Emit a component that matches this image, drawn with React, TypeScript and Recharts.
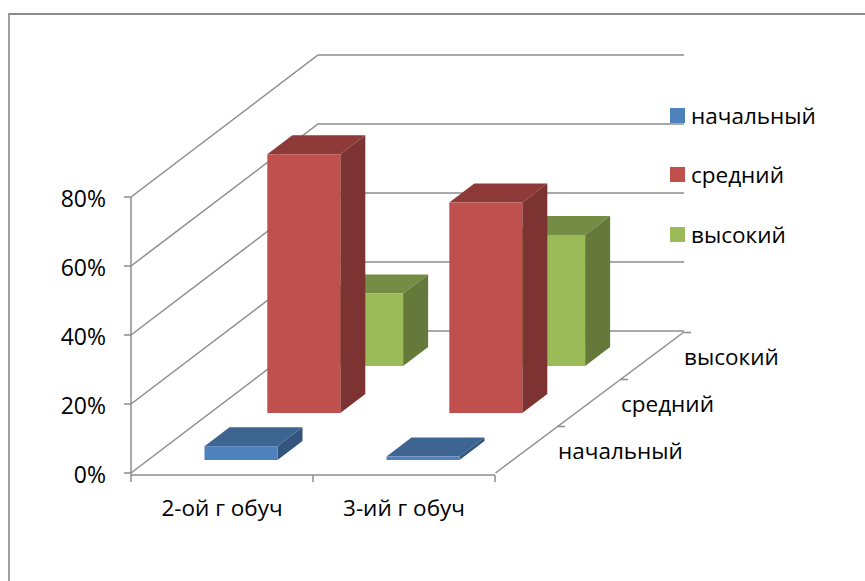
import React from 'react';
import { ComposedChart, Bar, XAxis, YAxis, CartesianGrid, Legend } from 'recharts';

const categories = ['2-ой г обуч', '3-ий г обуч'];
const seriesNames = ['начальный', 'средний', 'высокий'];
const initial = [4, 1];
const middle = [75, 61];
const high = [21, 38];
const yTicks = [0, 20, 40, 60, 80];
const data = categories.map((c, i) => ({ c, initial: initial[i], middle: middle[i], high: high[i] }));

const FONT = "'Open Sans', 'Noto Sans', sans-serif";
const FS = 22.5;
const INK = '#000';
const WALL = '#8c8c8c';
const FRONT = ['#4F81BD', '#C0504D', '#9BBB59'];
const TOP = ['#3E6491', '#8E3A38', '#748C43'];
const SIDE = ['#33547D', '#7C3331', '#64793A'];
const FLOOR_DX = 187;
const FLOOR_DY = -142;
const WALL_W = 366;
const STEP_DX = 62.8;
const STEP_DY = -47;
const BOX_DX = 25;
const BOX_DY = -19;

const barShape = (idx: number) => (p: any) => {
  const x = p.x + 18.5 + idx * STEP_DX;
  const w = p.width;
  const h = p.height;
  const y = p.y - 13 + idx * STEP_DY;
  return (
    <g>
      <path d={`M${x} ${y}l${BOX_DX} ${BOX_DY}h${w}l${-BOX_DX} ${-BOX_DY}z`} fill={TOP[idx]} />
      <path d={`M${x + w} ${y}l${BOX_DX} ${BOX_DY}v${h}l${-BOX_DX} ${-BOX_DY}z`} fill={SIDE[idx]} />
      <rect x={x} y={y} width={w} height={h} fill={FRONT[idx]} />
    </g>
  );
};

const wallLine = (p: any) => (
  <path
    key={p.key}
    d={`M${p.x1} ${p.y1}l${FLOOR_DX} ${FLOOR_DY}h${WALL_W}`}
    fill="none"
    stroke={WALL}
    strokeWidth={1.5}
  />
);

const XTick = (p: any) => {
  const half = 91;
  const axisY = 475;
  return (
    <g>
      <line x1={p.x - half} x2={p.x - half} y1={axisY} y2={axisY + 7} stroke={WALL} strokeWidth={1.5} />
      {p.index === categories.length - 1 && (
        <line x1={p.x + half} x2={p.x + half} y1={axisY} y2={axisY + 7} stroke={WALL} strokeWidth={1.5} />
      )}
      <text x={p.x} y={axisY + 41} textAnchor="middle" fontFamily={FONT} fontSize={FS} fill={INK}>
        {p.payload.value}
      </text>
    </g>
  );
};

const YTick = (p: any) => (
  <text x={106} y={p.y + 9.5} textAnchor="end" fontFamily={FONT} fontSize={FS + 0.5} fill={INK}>
    {p.payload.value}%
  </text>
);

const DepthAxis = () => (
  <g>
    <path d="M495.5 473L684 332" stroke={WALL} strokeWidth={1.5} fill="none" />
    {seriesNames.map((n, i) => (
      <g key={n}>
        <line
          x1={558 + i * 63}
          x2={565 + i * 63}
          y1={426.5 + i * STEP_DY}
          y2={426.5 + i * STEP_DY}
          stroke={WALL}
          strokeWidth={1.5}
        />
        <text x={558 + i * 63} y={459 + i * STEP_DY} fontFamily={FONT} fontSize={FS} fill={INK}>
          {n}
        </text>
      </g>
    ))}
  </g>
);

const LegendBox = () => (
  <div style={{ fontFamily: FONT, fontSize: FS, color: INK }}>
    {seriesNames.map((n, i) => (
      <div key={n} style={{ position: 'absolute', left: 0, top: i * 59.5, display: 'flex', alignItems: 'center', height: 30, whiteSpace: 'nowrap' }}>
        <span style={{ display: 'inline-block', width: 15, height: 15, background: FRONT[i], marginRight: 6 }} />
        {n}
      </div>
    ))}
  </div>
);

export default function App() {
  return (
    <div style={{ position: 'absolute', left: 0, top: 0, width: 865, height: 581, background: '#fff', overflow: 'hidden' }}>
      <div style={{ position: 'absolute', left: 8, top: 13, width: 857, height: 568, borderTop: '2px solid #8c8c8c', borderLeft: '2px solid #a0a0a0', boxSizing: 'border-box' }} />
      <ComposedChart
        width={865}
        height={581}
        data={data}
        barSize={73}
        barGap={-73}
        margin={{ top: 197, right: 370, bottom: 56, left: 71 }}
        style={{ position: 'absolute', left: 0, top: 0 }}
      >
        <CartesianGrid vertical={false} horizontal={wallLine} horizontalValues={yTicks} />
        <XAxis
          dataKey="c"
          height={50}
          tickLine={false}
          tick={XTick}
          interval={0}
          axisLine={{ stroke: WALL, strokeWidth: 1.5 }}
        />
        <YAxis
          width={60}
          domain={[0, 80]}
          ticks={yTicks}
          padding={{ top: 0, bottom: 2 }}
          tick={YTick}
          tickSize={7}
          tickLine={{ stroke: WALL, strokeWidth: 1.5 }}
          axisLine={{ stroke: WALL, strokeWidth: 1.5 }}
        />
        <Bar dataKey="high" name={seriesNames[2]} fill={FRONT[2]} shape={barShape(2)} isAnimationActive={false} />
        <Bar dataKey="middle" name={seriesNames[1]} fill={FRONT[1]} shape={barShape(1)} isAnimationActive={false} />
        <Bar dataKey="initial" name={seriesNames[0]} fill={FRONT[0]} shape={barShape(0)} isAnimationActive={false} />
        <DepthAxis />
        <Legend
          layout="vertical"
          align="center"
          verticalAlign="top"
          content={LegendBox}
          wrapperStyle={{ left: 670, top: 100, width: 190, height: 0 }}
        />
      </ComposedChart>
    </div>
  );
}
